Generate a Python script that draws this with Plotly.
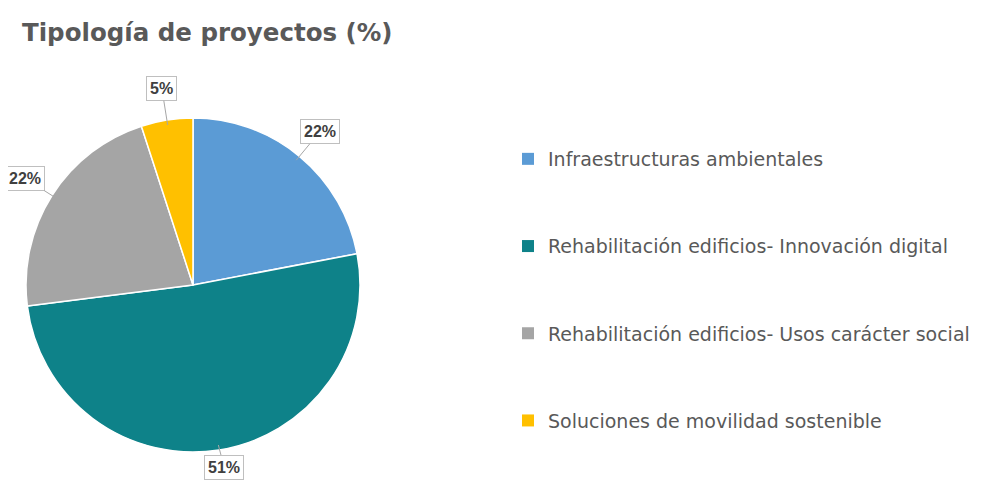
import math
import plotly.graph_objects as go

categories = [
    "Infraestructuras ambientales",
    "Rehabilitación edificios- Innovación digital",
    "Rehabilitación edificios- Usos carácter social",
    "Soluciones de movilidad sostenible",
]
values = [22, 51, 22, 5]
colors = ["#5B9BD5", "#0E8289", "#A5A5A5", "#FFC000"]

OFF = 8  # default body margin of the html page
W, H = 981 - OFF, 481 - OFF
cx, cy, R = 193 - OFF, 285 - OFF, 167  # pie centre / radius in figure pixels

fig = go.Figure()
fig.add_trace(go.Pie(
    labels=categories, values=values, sort=False, direction="clockwise", rotation=0,
    marker=dict(colors=colors, line=dict(color="white", width=1.5)),
    textinfo="none", hoverinfo="label+percent", showlegend=False,
    domain=dict(x=[(cx - R) / W, (cx + R) / W], y=[(H - cy - R) / H, (H - cy + R) / H]),
))

# legend entries via dummy traces so gaps can be controlled
for i, (cat, col) in enumerate(zip(categories, colors)):
    fig.add_trace(go.Scatter(
        x=[None], y=[None], mode="markers", name=cat, legendgroup=f"g{i}",
        marker=dict(symbol="square", size=8, color=col), showlegend=True,
    ))

# data labels with callout boxes
total = sum(values)
cum = 0
for v in values:
    mid = (cum + v / 2) / total * 2 * math.pi
    cum += v
    tipx = cx + R * 0.97 * math.sin(mid)
    tipy = cy - R * 0.97 * math.cos(mid)
    lx = cx + R * 1.19 * math.sin(mid)
    ly = min(cy - R * 1.19 * math.cos(mid), H - 14)
    fig.add_annotation(
        x=tipx / W, y=1 - tipy / H, xref="paper", yref="paper",
        ax=lx - tipx, ay=ly - tipy, axref="pixel", ayref="pixel",
        text=f"<b>{round(v / total * 100)}%</b>", showarrow=True, arrowhead=0,
        arrowcolor="#A6A6A6", arrowwidth=1,
        font=dict(family="Liberation Sans", size=16, color="#404040"),
        bgcolor="white", bordercolor="#BFBFBF", borderwidth=1, borderpad=3,
    )

fig.update_layout(
    width=W, height=H, margin=dict(l=0, r=0, t=0, b=0, autoexpand=False),
    paper_bgcolor="white", plot_bgcolor="white",
    xaxis=dict(visible=False), yaxis=dict(visible=False),
    title=dict(text="<b>Tipología de proyectos (%)</b>", x=(22 - OFF) / W, xanchor="left",
               y=1 - (32 - OFF) / H, yanchor="middle",
               font=dict(family="DejaVu Sans", size=24.5, color="#595959")),
    legend=dict(x=(508 - OFF) / W, y=1 - (140 - OFF) / H, xanchor="left", yanchor="top",
                traceorder="grouped", tracegroupgap=59.5, itemsizing="constant",
                font=dict(family="DejaVu Sans", size=19, color="#595959"),
                bgcolor="rgba(0,0,0,0)"),
    showlegend=True,
)

fig.write_html("out.html")
